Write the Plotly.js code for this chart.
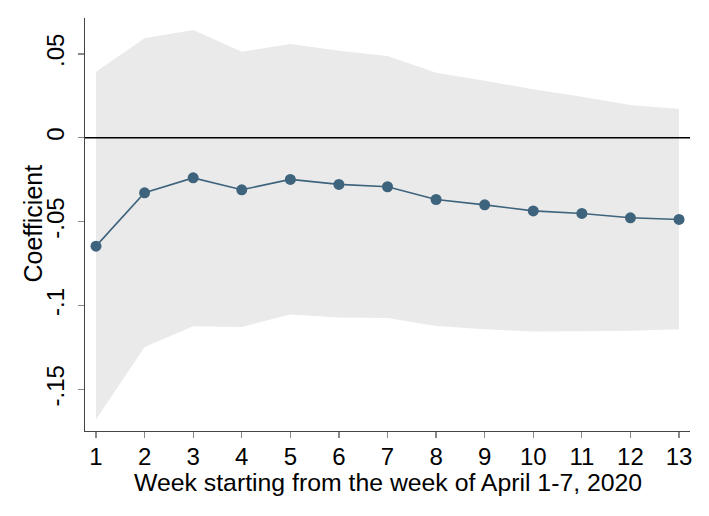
<!DOCTYPE html>
<html>
<head>
<meta charset="utf-8">
<script src="https://cdn.plot.ly/plotly-3.0.1.min.js"></script>
<style>
body{margin:0;padding:0;background:#fff;}
#chart{width:709px;height:516px;}
</style>
</head>
<body>
<div id="chart"></div>
<script>
// weeks and estimates
const weeks=[1,2,3,4,5,6,7,8,9,10,11,12,13];
const coef=[-0.0646,-0.0328,-0.0239,-0.0310,-0.0248,-0.0278,-0.0292,-0.0368,-0.0400,-0.0436,-0.0451,-0.0477,-0.0487];
const upper=[0.0394,0.0593,0.0643,0.0513,0.0559,0.0519,0.0487,0.0388,0.0340,0.0289,0.0245,0.0195,0.0171];
const lower=[-0.1680,-0.1247,-0.1124,-0.1128,-0.1054,-0.1072,-0.1074,-0.1122,-0.1141,-0.1155,-0.1153,-0.1151,-0.1141];
const yTickVals=[-0.15,-0.1,-0.05,0,0.05];
const yTickText=["-.15","-.1","-.05","0",".05"];
const xTitle="Week starting from the week of April 1-7, 2020";
const yTitle="Coefficient";

const fontFam="Liberation Sans, Arial, sans-serif";

const ciLow={
    x:weeks,
    y:lower,
    type:"scatter",
    mode:"lines",
    line:{width:0,color:"rgba(0,0,0,0)"},
    hoverinfo:"skip",
    showlegend:false
};

const ciHigh={
    x:weeks,
    y:upper,
    type:"scatter",
    mode:"lines",
    fill:"tonexty",
    fillcolor:"#eaeaea",
    line:{width:0,color:"rgba(0,0,0,0)"},
    hoverinfo:"skip",
    showlegend:false
};

const est={
    x:weeks,
    y:coef,
    type:"scatter",
    mode:"lines+markers",
    line:{color:"#3e647d",width:1.6},
    marker:{color:"#3e647d",size:11},
    showlegend:false
};

const layout={
    width:709,
    height:516,
    paper_bgcolor:"#ffffff",
    plot_bgcolor:"#ffffff",
    margin:{l:85,r:19,t:18,b:85},
    font:{family:fontFam,color:"#000",size:24},
    xaxis:{
        range:[0.7736,13.226],
        tickvals:weeks,
        showgrid:false,
        zeroline:false,
        showline:true,
        linecolor:"#444",
        linewidth:1.3,
        ticks:"outside",
        ticklen:6,
        tickwidth:1.3,
        tickcolor:"#888",
        ticklabelstandoff:-2,
        tickfont:{size:24}
    },
    yaxis:{
        range:[-0.1748,0.0714],
        tickvals:yTickVals,
        ticktext:yTickText,
        tickangle:-90,
        showgrid:false,
        zeroline:false,
        showline:true,
        linecolor:"#444",
        linewidth:1.3,
        ticks:"outside",
        ticklen:6,
        tickwidth:1.3,
        tickcolor:"#888",
        ticklabelstandoff:4,
        tickfont:{size:24}
    },
    annotations:[
        {
            text:xTitle,
            xref:"paper",yref:"paper",
            x:0.5,y:0,
            xanchor:"center",yanchor:"middle",
            yshift:-51,
            showarrow:false,
            font:{size:24.8}
        },
        {
            text:yTitle,
            xref:"paper",yref:"paper",
            x:0,y:0.5,
            xanchor:"center",yanchor:"middle",
            xshift:-53,yshift:1,
            textangle:-90,
            showarrow:false,
            font:{size:25}
        }
    ],
    shapes:[{
        type:"line",
        xref:"paper",
        yref:"y",
        x0:0,x1:1,
        y0:0,y1:0,
        layer:"above",
        line:{color:"#000",width:1.3}
    }]
};

Plotly.newPlot("chart",[ciLow,ciHigh,est],layout,{displayModeBar:false,staticPlot:true});
</script>
</body>
</html>
